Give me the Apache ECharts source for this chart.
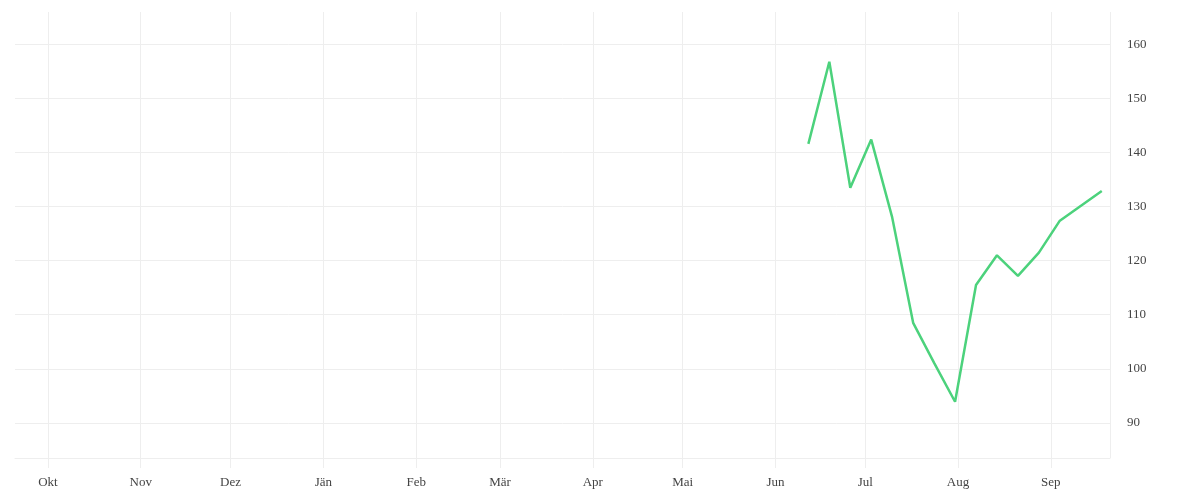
<!DOCTYPE html>
<html>
<head>
<meta charset="utf-8">
<script src="https://cdn.jsdelivr.net/npm/echarts@6/dist/echarts.min.js"></script>
<style>
html,body{margin:0;padding:0;background:#fff;}
#chart{width:1200px;height:500px;}
</style>
</head>
<body>
<div id="chart"></div>
<script>
// Data
const dates = ['2023-06-12','2023-06-19','2023-06-26','2023-07-03','2023-07-10','2023-07-17','2023-07-24','2023-07-31','2023-08-07','2023-08-14','2023-08-21','2023-08-28','2023-09-04','2023-09-18'];
const values = [141.6, 156.8, 133.5, 142.4, 128.0, 108.5, 101.1, 93.9, 115.5, 121.0, 117.2, 121.5, 127.4, 132.9];
const monthLabels = ['Jän','Feb','Mär','Apr','Mai','Jun','Jul','Aug','Sep','Okt','Nov','Dez'];
const yTicks = [90, 100, 110, 120, 130, 140, 150, 160];

const seriesData = dates.map((d, i) => [Date.parse(d + 'T00:00:00Z'), values[i]]);

const chart = echarts.init(document.getElementById('chart'));
const font = '"Liberation Serif", "DejaVu Serif", serif';
const xMin = Date.UTC(2022, 8, 20, 0);
const xMax = Date.UTC(2023, 8, 20, 18);
chart.setOption({
  useUTC: true,
  animation: false,
  backgroundColor: '#fff',
  grid: { left: 15, right: 90, top: 12, bottom: 42, containLabel: false },
  xAxis: [{
    type: 'time',
    min: xMin,
    max: xMax,
    splitNumber: 12,
    axisLine: { show: true, lineStyle: { color: '#eeeeee', width: 1 } },
    axisTick: { show: true, inside: false, length: 10, lineStyle: { color: '#eeeeee', width: 1 } },
    splitLine: { show: true, showMinLine: false, lineStyle: { color: '#eeeeee', width: 1 } },
    axisLabel: {
      color: '#444',
      fontFamily: font,
      fontSize: 13,
      margin: 18,
      showMinLabel: false,
      showMaxLabel: false,
      formatter: function (v) {
        const d = new Date(v);
        return monthLabels[d.getUTCMonth()];
      }
    }
  }],
  yAxis: {
    type: 'value',
    position: 'right',
    min: 83.5,
    max: 166,
    splitNumber: 8,
    axisLine: { show: false },
    axisTick: { show: false },
    splitLine: { show: true, showMaxLine: false, lineStyle: { color: '#eeeeee', width: 1 } },
    axisLabel: {
      color: '#444',
      fontFamily: font,
      fontSize: 13,
      margin: 17,
      showMinLabel: false,
      showMaxLabel: false,
      formatter: function (v) { return yTicks.indexOf(v) >= 0 ? String(v) : ''; }
    }
  },
  series: [{
    type: 'line',
    data: seriesData,
    showSymbol: false,
    symbol: 'none',
    lineStyle: { color: '#4cd27c', width: 2.5 },
    itemStyle: { color: '#4cd27c' }
  }]
});
</script>
</body>
</html>
